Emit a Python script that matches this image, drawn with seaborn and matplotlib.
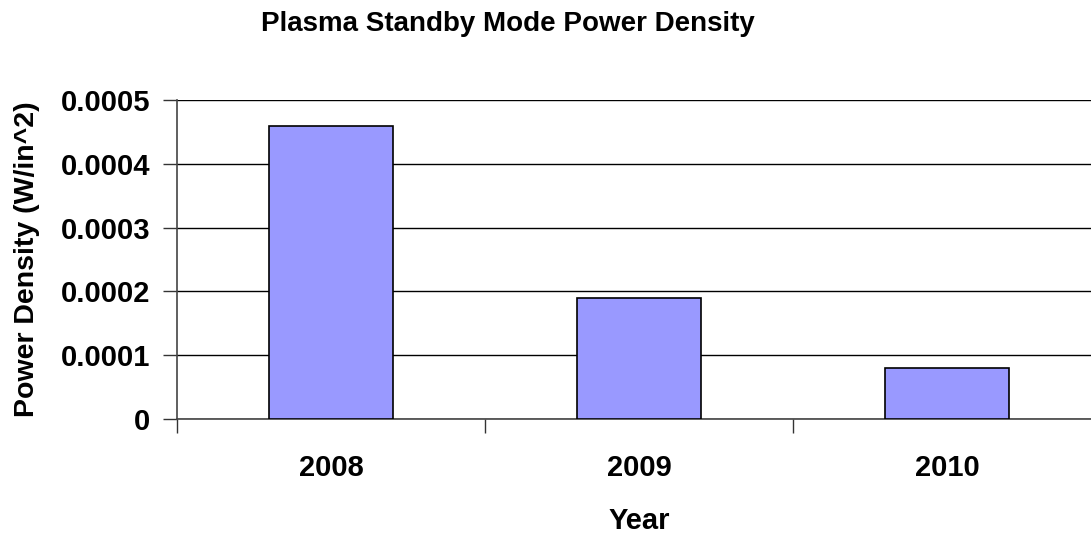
import matplotlib
matplotlib.use("Agg")
import matplotlib.pyplot as plt
import seaborn as sns
import pandas as pd

years = ["2008", "2009", "2010"]
density = [0.00046, 0.00019, 0.00008]
ytick_vals = [0, 0.0001, 0.0002, 0.0003, 0.0004, 0.0005]
ytick_labels = ["0", "0.0001", "0.0002", "0.0003", "0.0004", "0.0005"]

sns.set_style("white")
plt.rcParams["font.family"] = ["Liberation Sans", "DejaVu Sans"]
plt.rcParams["font.weight"] = "bold"
plt.rcParams["text.color"] = "black"
plt.rcParams["axes.labelcolor"] = "black"
plt.rcParams["xtick.color"] = "black"
plt.rcParams["ytick.color"] = "black"

df = pd.DataFrame({"Year": years, "Density": density})

fig = plt.figure(figsize=(10.91, 5.33), dpi=100)
ax = fig.add_axes([177 / 1091, 114 / 533, 924 / 1091, 319 / 533])

sns.barplot(data=df, x="Year", y="Density", color="#9999FF", edgecolor="black",
            linewidth=1.2, width=0.4, saturation=1, ax=ax, zorder=3)

ax.set_xlim(-0.5, 2.5)
ax.set_ylim(0, 0.0005)
ax.set_yticks(ytick_vals)
ax.set_yticklabels(ytick_labels, fontsize=21, fontweight="bold", color="black")
ax.yaxis.grid(True, color="black", linewidth=1, zorder=0)
ax.set_axisbelow(True)

# category boundary ticks
ax.set_xticks([-0.5, 0.5, 1.5, 2.5])
ax.set_xticklabels([])
ax.set_xticks(range(len(years)), minor=True)
ax.set_xticklabels(years, minor=True, fontsize=21, fontweight="bold", color="black")
ax.tick_params(axis="x", which="major", bottom=True, direction="out", length=10, width=1, color="#333333")
ax.tick_params(axis="x", which="minor", bottom=True, length=0, pad=25)
ax.tick_params(axis="y", left=True, direction="out", length=10, width=1, color="#333333", pad=9)

for s in ["top", "right"]:
    ax.spines[s].set_visible(False)
for s in ["left", "bottom"]:
    ax.spines[s].set_color("#444444")
    ax.spines[s].set_linewidth(1.2)

ax.set_xlabel("Year", fontsize=21, fontweight="bold", labelpad=18, color="black")
ax.set_ylabel("Power Density (W/in^2)", fontsize=20.5, fontweight="bold", labelpad=15, color="black")
fig.text(508 / 1091, 1 - 24 / 533, "Plasma Standby Mode Power Density",
         ha="center", va="center", fontsize=20, fontweight="bold", color="black")

fig.savefig("out.png", dpi=100)
